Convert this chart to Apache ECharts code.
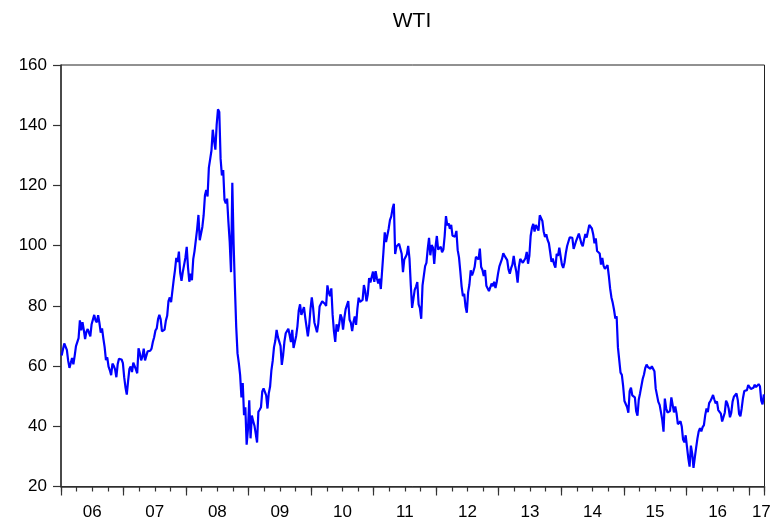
<!DOCTYPE html>
<html>
<head>
<meta charset="utf-8">
<script src="https://cdn.jsdelivr.net/npm/echarts@6/dist/echarts.min.js"></script>
<style>
  html, body { margin: 0; padding: 0; background: #fff; }
  #chart { width: 775px; height: 523px; }
</style>
</head>
<body>
<div id="chart"></div>
<script>
// Weekly WTI prices (4 readings per month)
const years = [2006, 2007, 2008, 2009, 2010, 2011, 2012, 2013, 2014, 2015, 2016, 2017];
const wti2006 = [63.5,64.0,67.5,67.8, 65.4,61.8,59.4,61.0, 62.7,60.6,63.4,66.6, 66.7,69.3,75.2,71.9, 74.6,72.0,69.0,71.4, 72.3,71.0,69.9,73.9, 74.2,77.0,75.2,74.5, 76.9,74.3,71.1,72.5, 69.2,66.3,62.0,62.9, 59.8,58.6,57.0,60.8, 60.1,58.9,56.3,60.6, 62.4,62.0,62.2,61.0];
const wti2007 = [56.3,52.9,50.5,55.0, 59.0,59.9,58.0,61.1, 61.6,58.9,57.6,65.9, 64.3,61.9,63.1,65.8, 61.9,62.4,64.9,65.2, 65.1,65.8,68.0,69.6, 71.8,72.5,75.6,77.0, 75.5,71.5,71.0,72.1, 75.1,76.7,81.6,82.8, 81.2,81.2,88.6,91.9, 95.9,94.6,98.0,91.0, 88.3,91.3,91.4,96.0];
const wti2008 = [99.6,92.7,88.0,90.7, 88.5,95.5,98.2,101.8, 105.5,110.2,101.8,101.6, 106.2,110.1,116.7,118.5, 116.3,125.9,126.3,131.6, 138.5,134.9,131.9,140.2, 145.3,144.4,128.9,123.3, 125.1,115.2,114.0,115.6, 107.9,101.2,91.2,120.9, 100.6,86.0,73.0,64.2, 61.0,57.0,49.6,54.4, 43.7,46.3,33.9,39.0];
const wti2009 = [48.6,36.0,43.6,41.7, 40.2,37.5,34.6,44.8, 45.5,46.3,51.6,52.6, 52.5,50.3,45.9,51.0, 53.2,58.6,61.7,66.3, 68.4,72.0,69.6,69.9, 66.7,60.4,63.6,68.1, 70.9,71.0,72.4,70.3, 68.0,72.0,66.0,66.0, 70.0,73.3,78.5,80.5, 77.0,76.4,79.6,76.0, 75.5,69.9,73.4,78.9];
const wti2010 = [82.8,79.4,74.5,72.9, 71.2,74.1,79.8,79.7, 81.5,81.2,80.7,80.0, 86.8,84.5,83.2,85.8, 77.0,71.6,68.0,73.9, 71.5,73.8,77.2,76.0, 72.1,76.0,78.9,78.9, 81.6,75.4,74.4,71.6, 74.6,76.5,73.7,79.0, 82.7,81.3,81.7,82.0, 86.9,84.9,81.5,83.8, 89.2,87.8,88.0,91.4];
const wti2011 = [88.0,91.5,89.1,87.4, 89.0,85.6,86.2,97.9, 104.4,101.2,101.4,105.6, 108.5,109.7,112.3,113.9, 97.2,99.7,99.5,100.6, 100.2,97.3,91.2,95.4, 96.2,97.2,99.9,95.7, 86.9,79.3,82.3,85.3, 86.4,87.9,80.5,79.2, 75.7,86.8,87.4,93.2, 94.3,98.9,102.6,96.8, 100.2,99.4,93.9,99.7];
const wti2012 = [103.2,98.7,98.5,99.6, 97.8,98.7,103.2,109.8, 106.7,107.4,105.6,106.9, 103.3,102.8,103.0,104.9, 98.5,96.1,91.5,86.5, 83.2,84.0,79.8,77.7, 84.5,87.1,91.8,90.1, 91.4,92.9,96.3,96.2, 95.4,99.0,92.9,91.9, 89.9,91.9,86.7,86.1, 84.9,86.1,87.4,86.5, 88.0,85.9,88.0,90.8];
const wti2013 = [93.1,93.6,95.6,97.5, 96.6,97.0,95.2,92.1, 90.7,92.5,93.7,96.6, 93.5,91.3,87.7,93.0, 95.6,96.0,94.3,93.8, 95.8,97.9,94.0,96.6, 103.2,105.9,107.2,104.7, 106.9,107.5,105.0,110.1, 110.5,108.2,104.7,102.9, 103.8,101.9,100.8,97.8, 94.6,95.7,93.8,92.7, 97.3,96.6,99.3,99.0];
const wti2014 = [93.7,92.6,94.4,97.5, 99.9,100.3,102.8,102.6, 102.6,98.9,99.5,101.7, 101.1,104.0,104.3,100.6, 99.8,102.0,103.9,102.7, 102.7,106.9,107.3,105.7, 103.8,100.8,102.4,98.2, 97.7,97.4,93.7,95.9, 93.3,92.3,92.4,93.5, 90.0,85.8,82.8,81.0, 78.7,75.8,76.5,66.2, 66.0,57.8,57.1,53.3];
const wti2015 = [48.4,48.7,46.4,44.5, 51.7,52.8,50.3,49.8, 49.6,45.0,43.5,48.9, 51.0,51.6,55.7,57.2, 59.4,60.5,59.7,60.3, 59.1,59.9,59.6,58.3, 52.5,52.7,48.1,47.1, 44.7,42.2,38.2,49.2, 46.0,44.6,44.7,45.1, 49.6,47.1,44.6,46.6, 44.3,40.7,40.4,41.7, 39.9,35.6,34.7,37.0];
const wti2016 = [33.2,29.4,26.6,33.6, 30.9,26.2,29.6,32.8, 35.9,38.3,39.4,38.3, 39.7,40.4,43.7,45.9, 44.7,47.7,48.4,49.3, 50.4,48.9,47.6,48.3, 45.4,45.9,44.2,41.6, 41.8,44.5,48.5,47.6, 45.9,43.0,44.5,48.2, 49.8,50.4,50.9,48.7, 44.1,43.3,46.0,49.4, 51.7,51.9,52.0,53.7];
const wti2017 = [53.8,52.4,52.4,52.8, 53.8,53.0,53.4,54.0, 53.3,48.5,47.3,50.6];
const yTicks = [20, 40, 60, 80, 100, 120, 140, 160];
const xLabelYears = ['06','07','08','09','10','11','12','13','14','15','16','17'];

const perYear = [wti2006, wti2007, wti2008, wti2009, wti2010, wti2011, wti2012, wti2013, wti2014, wti2015, wti2016, wti2017];
const seriesData = [];
perYear.forEach((arr, yi) => {
  arr.forEach((v, i) => {
    const m = Math.floor(i / 4), w = i % 4;
    seriesData.push([years[yi] + (m + (w + 0.5) / 4) / 12, v]);
  });
});

const xMin = 2006, xMax = 2017.25;
const majorTicks = years.concat([xMax]);
const minorTicks = [];
for (let q = xMin; q <= xMax + 1e-9; q += 0.25) minorTicks.push(q);
const labelPos = years.map(y => (y < 2017 ? y + 0.5 : y + 0.2));

const font = '"Liberation Sans", Arial, Helvetica, sans-serif';
const chart = echarts.init(document.getElementById('chart'), null, { renderer: 'canvas' });
chart.setOption({
  animation: false,
  backgroundColor: '#ffffff',
  title: {
    text: 'WTI',
    left: 407, top: 6, textAlign: 'center',
    textStyle: { fontFamily: font, fontSize: 21, fontWeight: 'normal', color: '#000' }
  },
  grid: {
    left: 61, right: 10.5, top: 65, bottom: 36.5,
    show: true, borderColor: '#222', borderWidth: 1, backgroundColor: '#fff'
  },
  xAxis: [
    {
      type: 'value', min: xMin, max: xMax, position: 'bottom',
      axisLine: { show: true, onZero: false, lineStyle: { color: '#333', width: 1.5 } },
      axisTick: { show: true, length: 9, customValues: majorTicks, lineStyle: { color: '#333', width: 1.2 } },
      axisLabel: {
        show: true, customValues: labelPos, margin: 17,
        fontFamily: font, fontSize: 17, color: '#000',
        formatter: v => xLabelYears[years.indexOf(Math.floor(v))] || ''
      },
      splitLine: { show: false }
    },
    {
      type: 'value', min: xMin, max: xMax, position: 'bottom',
      axisLine: { show: false },
      axisTick: { show: true, length: 5, customValues: minorTicks, lineStyle: { color: '#333', width: 1.2 } },
      axisLabel: { show: false },
      splitLine: { show: false }
    }
  ],
  yAxis: {
    type: 'value', min: yTicks[0], max: yTicks[yTicks.length - 1], interval: 20,
    axisLine: { show: true, onZero: false, lineStyle: { color: '#333', width: 1.5 } },
    axisTick: { show: true, length: 8, lineStyle: { color: '#333', width: 1.2 } },
    axisLabel: { margin: 14, fontFamily: font, fontSize: 17, color: '#000' },
    splitLine: { show: false }
  },
  series: [{
    type: 'line', xAxisIndex: 0, data: seriesData,
    showSymbol: false, symbol: 'none',
    lineStyle: { color: '#0000ff', width: 2.2 },
    z: 3
  }]
});
</script>
</body>
</html>
